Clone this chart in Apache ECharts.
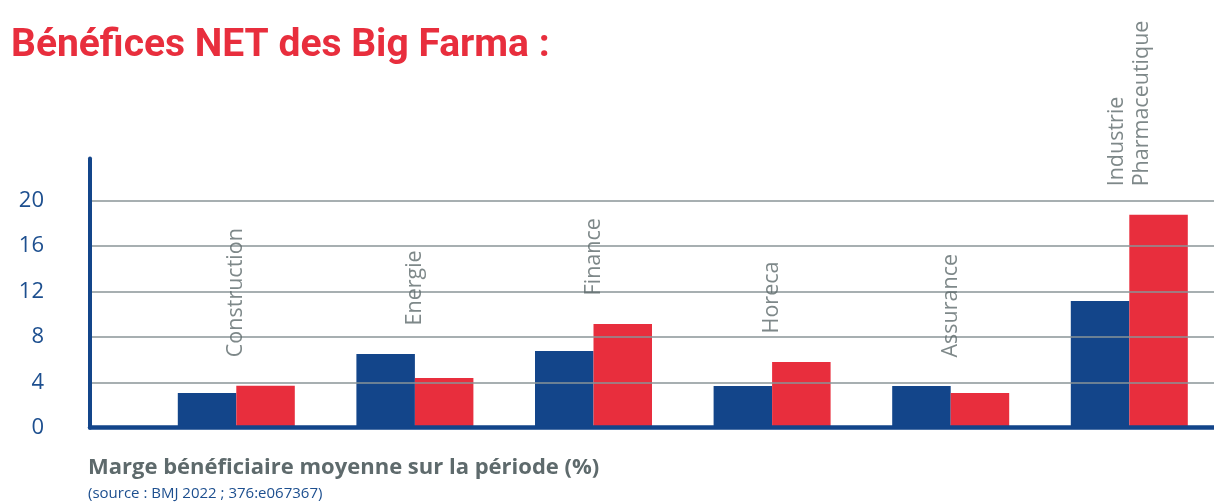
<!DOCTYPE html>
<html><head><meta charset="utf-8">
<script src="https://cdn.jsdelivr.net/npm/echarts@6/dist/echarts.min.js"></script>
<style>html,body{margin:0;padding:0;background:#fff}#c{width:1214px;height:503px}</style>
</head><body><div id="c"></div>
<script>
const categories = ['Construction', 'Energie', 'Finance', 'Horeca', 'Assurance', 'Industrie\nPharmaceutique'];
const blueValues = [3.06, 6.49, 6.76, 3.67, 3.67, 11.16];
const redValues = [3.7, 4.38, 9.14, 5.79, 3.06, 18.74];
const yTicks = [0, 4, 8, 12, 16, 20];

const BLUE = '#13458a';
const RED = '#e82e3d';
const GRAYTXT = '#5e6a6c';

const labelAnchors = categories.map((c, i) => Math.max(blueValues[i], redValues[i]));

const chart = echarts.init(document.getElementById('c'), null, {renderer: 'canvas'});
const TOP = 158.5, BOTTOM = 75.3;
chart.setOption({
  animation: false,
  backgroundColor: '#fff',
  title: [
    {text: 'Bénéfices NET des Big Farma :', left: 6, top: 22,
     textStyle: {fontFamily: 'Roboto', fontWeight: 700, fontSize: 39, color: RED}},
    {text: 'Marge bénéficiaire moyenne sur la période (%)', left: 83, top: 452,
     textStyle: {fontFamily: 'Open Sans', fontWeight: 700, fontSize: 22, color: GRAYTXT}},
    {text: '(source : BMJ 2022 ; 376:e067367)', left: 83, top: 481,
     textStyle: {fontFamily: 'Open Sans', fontWeight: 400, fontSize: 15, color: '#1d4f8f'}}
  ],
  grid: [
    {left: 90, right: 0, top: TOP, bottom: BOTTOM, outerBoundsMode: 'none'},
    {left: 147, width: 1071.6, top: TOP, bottom: BOTTOM, outerBoundsMode: 'none'}
  ],
  xAxis: [
    {type: 'value', gridIndex: 0, min: 0, max: 1, z: 5,
     axisLine: {show: true, lineStyle: {color: BLUE, width: 4.5}},
     axisTick: {show: false}, axisLabel: {show: false}, splitLine: {show: false}},
    {type: 'category', gridIndex: 1, data: categories, show: false}
  ],
  yAxis: [
    {type: 'value', gridIndex: 0, min: 0, max: 23.7, interval: 4, z: 5,
     axisLine: {show: true, lineStyle: {color: BLUE, width: 4}},
     axisTick: {show: false},
     axisLabel: {margin: 46, showMaxLabel: false, fontFamily: 'Open Sans', fontSize: 22, color: '#1d4f8f',
       padding: [0, 0, 8, 0],
       formatter: v => yTicks.includes(v) ? String(v) : ''},
     splitLine: {show: true, showMaxLine: false, lineStyle: {color: '#8a9597', width: 1.5}}},
    {type: 'value', gridIndex: 1, min: 0, max: 23.7, show: false, splitLine: {show: false}}
  ],
  series: [
    {type: 'bar', name: 'Série 1', xAxisIndex: 1, yAxisIndex: 1, data: blueValues,
     barWidth: 58.5, barGap: '0%', itemStyle: {color: BLUE}, silent: true},
    {type: 'bar', name: 'Série 2', xAxisIndex: 1, yAxisIndex: 1, data: redValues,
     barWidth: 58.5, barGap: '0%', itemStyle: {color: RED}, silent: true},
    {type: 'scatter', xAxisIndex: 1, yAxisIndex: 1, data: labelAnchors, symbolSize: 1,
     itemStyle: {color: 'rgba(0,0,0,0)'}, silent: true, z: 10,
     label: {show: true, position: 'top', distance: 28, rotate: 90, align: 'left', verticalAlign: 'middle',
       formatter: p => categories[p.dataIndex],
       fontFamily: 'Open Sans', fontSize: 21.5, lineHeight: 25, color: GRAYTXT}}
  ]
});
</script></body></html>
